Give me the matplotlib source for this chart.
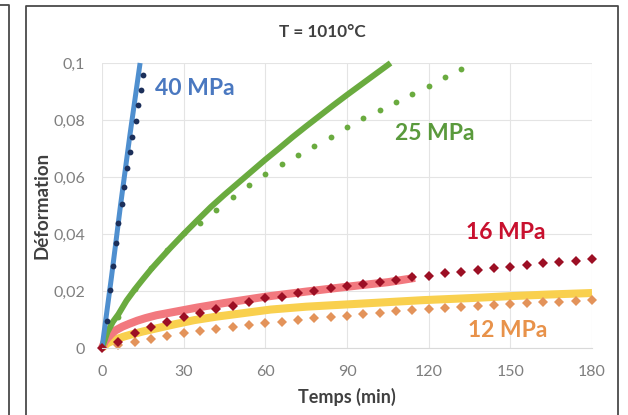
import matplotlib.pyplot as plt
from matplotlib.lines import Line2D

plt.rcParams['font.family'] = ['Lato', 'DejaVu Sans']

# creep curves at T = 1010 C : measured points and fitted curves
blue_t = [1.8, 2.9, 4.0, 5.1, 5.9, 7.3, 8.1, 9.2, 10.3, 11.0, 12.5, 13.2, 14.3, 15.1]
blue_y = [0.0095, 0.0202, 0.0288, 0.0368, 0.0439, 0.0505, 0.0565, 0.0632, 0.0688,
          0.0740, 0.0796, 0.0853, 0.0905, 0.0958]
blue_fit_t = [0, 3.5, 6.8, 10.3, 14]
blue_fit_y = [0, 0.025, 0.05, 0.075, 0.1]

green_t = [6, 12, 18, 24, 30, 36, 42, 48, 54, 60, 66, 72, 78, 84, 90, 96, 102,
           108, 114, 120, 126, 132]
green_y = [0.0109, 0.0207, 0.0281, 0.0344, 0.0404, 0.0439, 0.0484, 0.0530, 0.0572,
           0.0611, 0.0646, 0.0677, 0.0709, 0.0740, 0.0775, 0.0807, 0.0835, 0.0863,
           0.0891, 0.0919, 0.0951, 0.0979]
green_fit_t = [0, 2, 4, 6, 9, 12, 15, 18, 21, 25, 30, 35, 40, 45, 50, 55, 60, 65,
               70, 75, 80, 85, 90, 95, 100, 106]
green_fit_y = [0, 0.0056, 0.0092, 0.0118, 0.0166, 0.0205, 0.0241, 0.0276, 0.0308,
               0.0350, 0.0400, 0.0448, 0.0495, 0.0538, 0.0579, 0.0620, 0.0661,
               0.0700, 0.0740, 0.0778, 0.0815, 0.0852, 0.0888, 0.0923, 0.0958, 0.1]

red_t = [0, 6, 12, 18, 24, 30, 36, 42, 48, 54, 60, 66, 72, 78, 84, 90, 96, 102,
         108, 114, 120, 126, 132, 138, 144, 150, 156, 162, 168, 174, 180]
red_y = [0, 0.0021, 0.0053, 0.0074, 0.0091, 0.0109, 0.0123, 0.0137, 0.0147, 0.0161,
         0.0175, 0.0179, 0.0193, 0.0200, 0.0211, 0.0218, 0.0225, 0.0232, 0.0239,
         0.0249, 0.0253, 0.0263, 0.0267, 0.0274, 0.0281, 0.0284, 0.0291, 0.0298,
         0.0302, 0.0305, 0.0312]
red_fit_t = [0, 1, 2, 3.5, 5, 7.5, 10, 13, 16, 20, 25, 30, 35, 45, 60, 75, 90, 105, 115]
red_fit_y = [0, 0.0022, 0.0035, 0.0050, 0.0062, 0.0075, 0.0085, 0.0096, 0.0105,
             0.0115, 0.0124, 0.0133, 0.0142, 0.0158, 0.0180, 0.0198, 0.0215,
             0.0231, 0.0246]

orange_t = [6, 12, 18, 24, 30, 36, 42, 48, 54, 60, 66, 72, 78, 84, 90, 96, 102,
            108, 114, 120, 126, 132, 138, 144, 150, 156, 162, 168, 174, 180]
orange_y = [0.0012, 0.0021, 0.0032, 0.0042, 0.0053, 0.0060, 0.0067, 0.0074, 0.0081,
            0.0088, 0.0091, 0.0098, 0.0105, 0.0109, 0.0112, 0.0119, 0.0123, 0.0130,
            0.0133, 0.0137, 0.0140, 0.0144, 0.0147, 0.0151, 0.0154, 0.0158, 0.0161,
            0.0161, 0.0165, 0.0168]
yellow_fit_t = [0, 2, 5, 8, 11, 15, 20, 27, 34, 42, 50, 62, 75, 90, 105, 118, 135,
                150, 165, 180]
yellow_fit_y = [0, 0.0017, 0.0030, 0.0040, 0.0048, 0.0058, 0.0069, 0.0084, 0.0098,
                0.0110, 0.0120, 0.0135, 0.0145, 0.0153, 0.0161, 0.0168, 0.0175,
                0.0182, 0.0188, 0.0193]

x_ticks = [0, 30, 60, 90, 120, 150, 180]
y_ticks = [0, 0.02, 0.04, 0.06, 0.08, 0.1]
y_tick_labels = ['0', '0,02', '0,04', '0,06', '0,08', '0,1']

fig = plt.figure(figsize=(6.28, 4.15), dpi=100)
ax = fig.add_axes([0.1624, 0.1614, 0.7803, 0.6868])

ax.set_xlim(0, 180)
ax.set_ylim(0, 0.1)
ax.set_xticks(x_ticks)
ax.set_yticks(y_ticks)
ax.set_yticklabels(y_tick_labels)
ax.grid(True, color='#e4e4e4', linewidth=0.8)
ax.set_axisbelow(True)
for s in ['top', 'right', 'left']:
    ax.spines[s].set_visible(False)
ax.spines['bottom'].set_color('#d9d9d9')
ax.tick_params(length=0, labelsize=11.5, labelcolor='#7f7f7f')
ax.tick_params(axis='y', pad=12)
ax.tick_params(axis='x', pad=12)

# fitted curves
ax.plot(yellow_fit_t, yellow_fit_y, color='#f9d04e', lw=5.8, solid_capstyle='butt', clip_on=False)
ax.plot(red_fit_t, red_fit_y, color='#f2797f', lw=5.8, solid_capstyle='butt', clip_on=False)
ax.plot(green_fit_t, green_fit_y, color='#6aab3f', lw=4.3, solid_capstyle='butt', clip_on=False)
ax.plot(blue_fit_t, blue_fit_y, color='#4f8fcf', lw=3.6, solid_capstyle='butt', clip_on=False)

# measured points
ax.plot(orange_t, orange_y, 'D', color='#e3935a', ms=4.8, mew=0, clip_on=False)
ax.plot(red_t, red_y, 'D', color='#9c0f24', ms=4.8, mew=0, clip_on=False)
ax.plot(green_t, green_y, 'o', color='#6aab3f', ms=4.2, mew=0, clip_on=False)
ax.plot(blue_t, blue_y, 'o', color='#1c2f5a', ms=4.2, mew=0, clip_on=False)

lab_kw = dict(fontsize=16.5, fontweight='bold', ha='center', va='center')
ax.text(34.2, 0.0912, '40 MPa', color='#4a78c0', **lab_kw)
ax.text(122.3, 0.0754, '25 MPa', color='#5a9a3c', **lab_kw)
ax.text(148.4, 0.0407, '16 MPa', color='#c8102e', **lab_kw)
ax.text(149.1, 0.0063, '12 MPa', color='#e8924a', **lab_kw)

fig.text(0.514, 0.923, 'T = 1010°C', fontsize=12.3, fontweight='bold', color='#404040',
         ha='center', va='center')
fig.text(0.0669, 0.506, 'Déformation', fontsize=13.5, fontweight='bold', color='#404040',
         rotation=90, ha='center', va='center')
fig.text(0.5525, 0.0434, 'Temps (min)', fontsize=13, fontweight='bold', color='#404040',
         ha='center', va='center')

# frames of the chart box and neighbouring panel
frame_kw = dict(color='#4a4a4a', lw=1.3, transform=fig.transFigure)
fig.add_artist(Line2D([0.0414, 0.0414, 0.9841, 0.9841], [0.0, 0.9855, 0.9855, 0.0], **frame_kw))
fig.add_artist(Line2D([0.0, 0.0143, 0.0143], [0.988, 0.988, 0.0], **frame_kw))
fig.text(0.708, 1.012, 'g', fontsize=22, color='#111111', ha='center', va='baseline')

fig.savefig('out.png', dpi=100, facecolor='white')
